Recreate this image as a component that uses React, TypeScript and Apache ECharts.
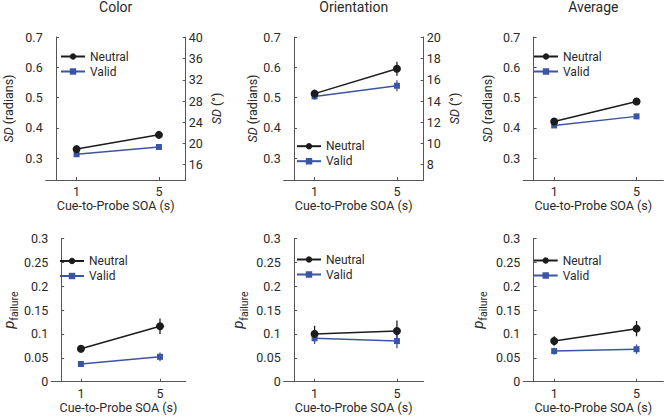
import React, { useEffect, useRef } from "react";
import * as echarts from "echarts";

// ---- data ----
const soa = [1, 5];
const panelTitles = ["Color", "Orientation", "Average"];
const legendNames = ["Neutral", "Valid"];

const colorSdNeutral = [0.33, 0.377];
const colorSdNeutralErr = [0.008, 0.011];
const colorSdValid = [0.313, 0.337];
const colorSdValidErr = [0.006, 0.008];

const orientSdNeutral = [0.513, 0.595];
const orientSdNeutralErr = [0.011, 0.023];
const orientSdValid = [0.504, 0.539];
const orientSdValidErr = [0.011, 0.018];

const avgSdNeutral = [0.421, 0.487];
const avgSdNeutralErr = [0.007, 0.011];
const avgSdValid = [0.408, 0.438];
const avgSdValidErr = [0.006, 0.009];

const colorPfNeutral = [0.069, 0.116];
const colorPfNeutralErr = [0.008, 0.016];
const colorPfValid = [0.037, 0.052];
const colorPfValidErr = [0.005, 0.009];

const orientPfNeutral = [0.1, 0.106];
const orientPfNeutralErr = [0.017, 0.022];
const orientPfValid = [0.091, 0.085];
const orientPfValidErr = [0.012, 0.015];

const avgPfNeutral = [0.085, 0.111];
const avgPfNeutralErr = [0.01, 0.016];
const avgPfValid = [0.064, 0.068];
const avgPfValidErr = [0.007, 0.01];

const sdTicks = [0.3, 0.4, 0.5, 0.6, 0.7];
const colorDegTicks = [16, 20, 24, 28, 32, 36, 40];
const orientDegTicks = [8, 10, 12, 14, 16, 18, 20];
const pfTicks = [0, 0.05, 0.1, 0.15, 0.2, 0.25, 0.3];
const xTicks = [1, 5];

// ---- style / layout ----
const FONT = "'Liberation Sans Narrow', 'Roboto', sans-serif";
const AXIS_COLOR = "#555";
const TEXT_COLOR = "#2a2a2a";
const NEUTRAL_COLOR = "#1c1c1c";
const VALID_COLOR = "#3a55a3";
const SD_MIN = 0.228;
const SD_MAX = 0.7;
const colLeft = [45.7, 283.7, 523.3];
const gridWidth = 140;
const rowTop = [37, 238.3];
const rowHeight = [143, 143.4];
const legendPos = [
  [60, 50.5],
  [296, 140.2],
  [533, 50.5],
  [59, 255],
  [296, 253.5],
  [532.7, 254.5],
];
const yNameGap = [30, 16, 29, 27, 34, 34];

function buildOption() {
  const panels = [
    [colorSdNeutral, colorSdNeutralErr, colorSdValid, colorSdValidErr],
    [orientSdNeutral, orientSdNeutralErr, orientSdValid, orientSdValidErr],
    [avgSdNeutral, avgSdNeutralErr, avgSdValid, avgSdValidErr],
    [colorPfNeutral, colorPfNeutralErr, colorPfValid, colorPfValidErr],
    [orientPfNeutral, orientPfNeutralErr, orientPfValid, orientPfValidErr],
    [avgPfNeutral, avgPfNeutralErr, avgPfValid, avgPfValidErr],
  ];

  const grid: any[] = [];
  const xAxis: any[] = [];
  const yAxis: any[] = [];
  const series: any[] = [];
  const legend: any[] = [];

  const axisCommon = {
    axisLine: { show: true, lineStyle: { color: AXIS_COLOR, width: 1 } },
    splitLine: { show: false },
  };

  panels.forEach((p, i) => {
    const row = i < 3 ? 0 : 1;
    const col = i % 3;
    grid.push({
      left: colLeft[col],
      top: rowTop[row],
      width: gridWidth,
      height: rowHeight[row],
    });
    xAxis.push({
      ...axisCommon,
      type: "value",
      gridIndex: i,
      min: -0.5,
      max: 6.3,
      axisTick: { show: true, inside: true, length: 3, customValues: xTicks, lineStyle: { color: AXIS_COLOR } },
      axisLabel: { customValues: xTicks, margin: 5, fontFamily: FONT, fontSize: 12.5, color: TEXT_COLOR },
      name: "Cue-to-Probe SOA (s)",
      nameLocation: "middle",
      nameGap: 19,
      nameTextStyle: { fontFamily: FONT, fontSize: 12.5, color: TEXT_COLOR },
    });
    const isSd = row === 0;
    yAxis.push({
      ...axisCommon,
      type: "value",
      gridIndex: i,
      position: "left",
      min: isSd ? SD_MIN : 0,
      max: isSd ? SD_MAX : 0.3,
      axisTick: { show: true, inside: true, length: 3, customValues: isSd ? sdTicks : pfTicks, lineStyle: { color: AXIS_COLOR } },
      axisLabel: { customValues: isSd ? sdTicks : pfTicks, margin: 3, fontFamily: FONT, fontSize: 12.5, color: TEXT_COLOR },
      name: isSd ? "{i|SD} (radians)" : "{i|p}{s|failure}{h| }",
      nameLocation: "middle",
      nameRotate: 90,
      nameGap: yNameGap[i],
      nameTextStyle: {
        fontFamily: FONT,
        fontSize: 12.5,
        color: TEXT_COLOR,
        rich: {
          i: { fontStyle: "italic", fontFamily: FONT, fontSize: isSd ? 12.5 : 15, color: TEXT_COLOR, lineHeight: isSd ? 14 : 15, verticalAlign: isSd ? "middle" : "top" },
          s: { fontFamily: FONT, fontSize: 10.5, color: TEXT_COLOR, lineHeight: 11, verticalAlign: "bottom" },
          h: { fontSize: 1, lineHeight: 19 },
        },
      },
    });

    const [n, nErr, v, vErr] = p;
    const mk = (vals: number[], errs: number[]) =>
      soa.map((x, k) => [x, vals[k] - errs[k], vals[k] + errs[k]]);
    const errSeries = (name: string, vals: number[], errs: number[], color: string) => ({
      type: "custom",
      name,
      xAxisIndex: i,
      yAxisIndex: i,
      data: mk(vals, errs),
      encode: { x: 0, y: [1, 2] },
      z: 1,
      renderItem: (params: any, api: any) => {
        const a = api.coord([api.value(0), api.value(1)]);
        const b = api.coord([api.value(0), api.value(2)]);
        return {
          type: "line",
          shape: { x1: a[0], y1: a[1], x2: b[0], y2: b[1] },
          style: { stroke: color, lineWidth: 1.3 },
        };
      },
    });
    series.push(errSeries("errN" + i, n, nErr, NEUTRAL_COLOR));
    series.push(errSeries("errV" + i, v, vErr, VALID_COLOR));
    series.push({
      type: "line",
      name: legendNames[0],
      xAxisIndex: i,
      yAxisIndex: i,
      data: soa.map((x, k) => [x, n[k]]),
      symbol: "circle",
      symbolSize: 8,
      lineStyle: { color: NEUTRAL_COLOR, width: 1.5 },
      itemStyle: { color: NEUTRAL_COLOR },
      z: 3,
    });
    series.push({
      type: "line",
      name: legendNames[1],
      xAxisIndex: i,
      yAxisIndex: i,
      data: soa.map((x, k) => [x, v[k]]),
      symbol: "rect",
      symbolSize: 6,
      lineStyle: { color: VALID_COLOR, width: 1.5 },
      itemStyle: { color: VALID_COLOR },
      z: 2,
    });
    legend.push({
      data: legendNames,
      orient: "vertical",
      left: legendPos[i][0],
      top: legendPos[i][1],
      itemWidth: 24,
      itemHeight: 8,
      itemGap: 3,
      padding: 0,
      selectedMode: false,
      textStyle: { fontFamily: FONT, fontSize: 12, color: TEXT_COLOR, padding: [0, 0, 0, 0] },
    });
  });

  // right-hand degree axes
  const rightAxis = (gridIndex: number, factor: number, ticks: number[]) => ({
    ...axisCommon,
    type: "value",
    gridIndex,
    position: "right",
    min: SD_MIN * factor,
    max: SD_MAX * factor,
    axisTick: { show: true, inside: true, length: 3, customValues: ticks, lineStyle: { color: AXIS_COLOR } },
    axisLabel: { customValues: ticks, margin: 3, fontFamily: FONT, fontSize: 12.5, color: TEXT_COLOR },
    name: "{i|SD} (°)",
    nameLocation: "middle",
    nameRotate: 90,
    nameGap: 24,
    nameTextStyle: {
      fontFamily: FONT,
      fontSize: 12.5,
      color: TEXT_COLOR,
      rich: { i: { fontStyle: "italic", fontFamily: FONT, fontSize: 12.5, color: TEXT_COLOR } },
    },
  });
  yAxis.push(rightAxis(0, 180 / Math.PI, colorDegTicks));
  yAxis.push(rightAxis(1, 90 / Math.PI, orientDegTicks));

  const title = panelTitles.map((t, c) => ({
    text: t,
    left: colLeft[c] + gridWidth / 2,
    textAlign: "center",
    top: 0,
    padding: 0,
    textStyle: { fontFamily: FONT, fontSize: 14, fontWeight: "normal", color: TEXT_COLOR },
  }));

  return {
    animation: false,
    backgroundColor: "#ffffff",
    title,
    grid,
    xAxis,
    yAxis,
    legend,
    series,
  };
}

export default function App() {
  const ref = useRef<HTMLDivElement>(null);
  useEffect(() => {
    const chart = echarts.init(ref.current!, null, { renderer: "svg" });
    chart.setOption(buildOption() as any);
    return () => chart.dispose();
  }, []);
  return (
    <div
      ref={ref}
      style={{ width: 667, height: 417, position: "absolute", left: 0, top: 0 }}
    />
  );
}
